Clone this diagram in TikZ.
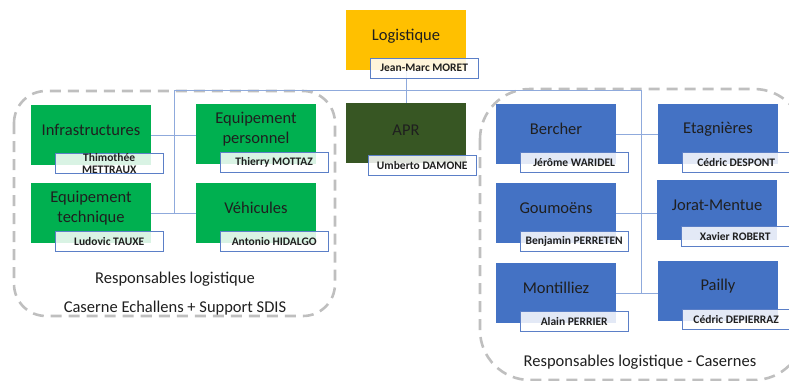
\documentclass[tikz,border=0pt]{standalone}
\usepackage{fontspec}
\setmainfont{Carlito}
\usepackage{xcolor}
\usepackage{tikz}
\usetikzlibrary{positioning}

\definecolor{orangebox}{HTML}{FFC000}
\definecolor{greenbox}{HTML}{00B050}
\definecolor{darkbox}{HTML}{375623}
\definecolor{bluebox}{HTML}{4472C4}
\definecolor{nameline}{HTML}{5B7FC7}
\definecolor{linkblue}{HTML}{8FAADC}
\definecolor{groupgray}{HTML}{BFBFBF}
\definecolor{textdark}{HTML}{1F1F1F}

\begin{document}
\begin{tikzpicture}[x=1pt, y=-1pt,
    unit/.style={rectangle, minimum width=120pt, minimum height=60pt, inner sep=0pt},
    unitlabel/.style={align=center, text=textdark, font=\fontsize{16.5}{19.5}\selectfont},
    namebox/.style={rectangle, draw=nameline, line width=0.8pt, fill=white, fill opacity=0.85,
        text opacity=1, text=textdark, minimum width=108pt, minimum height=20pt, inner sep=0pt,
        align=center, font=\bfseries\fontsize{11.5}{12}\selectfont},
    link/.style={draw=linkblue, line width=0.8pt},
    grouping/.style={draw=groupgray, line width=2.6pt, dash pattern=on 11pt off 7pt},
    grouplabel/.style={text=textdark, font=\fontsize{16.5}{19.5}\selectfont}]
    \useasboundingbox (0,0) rectangle (789,380);
    \clip (0,0) rectangle (789,380);

    % Groups
    \draw[grouping, rounded corners=32pt] (14,91) rectangle (335,316);
    \draw[grouping, rounded corners=50pt] (480,89) rectangle (804,380);

    % Units
    \node[unit, fill=orangebox] (logi) at (406,40) {};
    \node[unit, fill=darkbox] (apr) at (406,133) {};
    \node[unit, fill=greenbox] (infra) at (91,135) {};
    \node[unit, fill=greenbox] (perso) at (256,134) {};
    \node[unit, fill=greenbox] (techn) at (91,213) {};
    \node[unit, fill=greenbox] (vehic) at (256,213) {};
    \node[unit, fill=bluebox] (bercher) at (556,134) {};
    \node[unit, fill=bluebox] (etagn) at (718,134) {};
    \node[unit, fill=bluebox] (goum) at (556,213) {};
    \node[unit, fill=bluebox] (jorat) at (717,210) {};
    \node[unit, fill=bluebox] (montil) at (556,293) {};
    \node[unit, fill=bluebox] (pailly) at (718,291) {};

    % Bus
    \coordinate (busl) at (174,90);
    \coordinate (busr) at (641,90);
    \draw[link] (busl) -- (busr);
    \draw[link] (logi.south) -- (logi.south |- busl);
    \draw[link] (apr.north) -- (apr.north |- busl);
    \draw[link] (busl) -- (busl |- vehic.west);
    \draw[link] (infra.east) -- (infra.east -| perso.west);
    \draw[link] (techn.east) -- (vehic.west);
    \draw[link] (busr) -- (busr |- montil.east);
    \draw[link] (bercher.east) -- (etagn.west);
    \draw[link] (goum.east) -- (goum.east -| jorat.west);
    \draw[link] (montil.east) -- (montil.east -| pailly.west);

    % Labels
    \node[unitlabel] (logi-t) at ([yshift=4pt]logi.center) {Logistique};
    \node[unitlabel] (apr-t) at ([yshift=3pt]apr.center) {APR};
    \node[unitlabel] (infra-t) at ([yshift=5pt]infra.center) {Infrastructures};
    \node[unitlabel] (perso-t) at ([yshift=5pt]perso.center) {Equipement\\personnel};
    \node[unitlabel] (techn-t) at ([yshift=5pt]techn.center) {Equipement\\technique};
    \node[unitlabel] (vehic-t) at ([yshift=5pt]vehic.center) {Véhicules};
    \node[unitlabel] (bercher-t) at ([yshift=5pt]bercher.center) {Bercher};
    \node[unitlabel] (etagn-t) at ([yshift=5pt]etagn.center) {Etagnières};
    \node[unitlabel] (goum-t) at ([yshift=5pt]goum.center) {Goumoëns};
    \node[unitlabel] (jorat-t) at ([yshift=5pt]jorat.center) {Jorat-Mentue};
    \node[unitlabel] (montil-t) at ([yshift=5pt]montil.center) {Montilliez};
    \node[unitlabel] (pailly-t) at ([yshift=5pt]pailly.center) {Pailly};

    % Names
    \node[namebox] (logi-n) at ([xshift=-42pt,yshift=2pt]logi.south east) {Jean-Marc MORET};
    \node[namebox] (apr-n) at ([xshift=-44pt,yshift=-2pt]apr.south east) {Umberto DAMONE};
    \node[namebox] (infra-n) at ([xshift=-42pt,yshift=2pt]infra.south east) {Thimothée\\METTRAUX};
    \node[namebox] (perso-n) at ([xshift=-42pt,yshift=2pt]perso.south east) {Thierry MOTTAZ};
    \node[namebox] (techn-n) at ([xshift=-42pt,yshift=2pt]techn.south east) {Ludovic TAUXE};
    \node[namebox] (vehic-n) at ([xshift=-42pt,yshift=2pt]vehic.south east) {Antonio HIDALGO};
    \node[namebox] (bercher-n) at ([xshift=-42pt,yshift=2pt]bercher.south east) {Jérôme WARIDEL};
    \node[namebox] (etagn-n) at ([xshift=-42pt,yshift=2pt]etagn.south east) {Cédric DESPONT};
    \node[namebox] (goum-n) at ([xshift=-42pt,yshift=2pt]goum.south east) {Benjamin PERRETEN};
    \node[namebox] (jorat-n) at ([xshift=-42pt,yshift=4pt]jorat.south east) {Xavier ROBERT};
    \node[namebox] (montil-n) at ([xshift=-42pt,yshift=2pt]montil.south east) {Alain PERRIER};
    \node[namebox] (pailly-n) at ([xshift=-42pt,yshift=2pt]pailly.south east) {Cédric DEPIERRAZ};

    % Group captions
    \node[grouplabel] (capl1) at (175,279) {Responsables logistique};
    \node[grouplabel] (capl2) at (175,308) {Caserne Echallens + Support SDIS};
    \node[grouplabel] (capr) at (640,362) {Responsables logistique - Casernes};
\end{tikzpicture}
\end{document}
